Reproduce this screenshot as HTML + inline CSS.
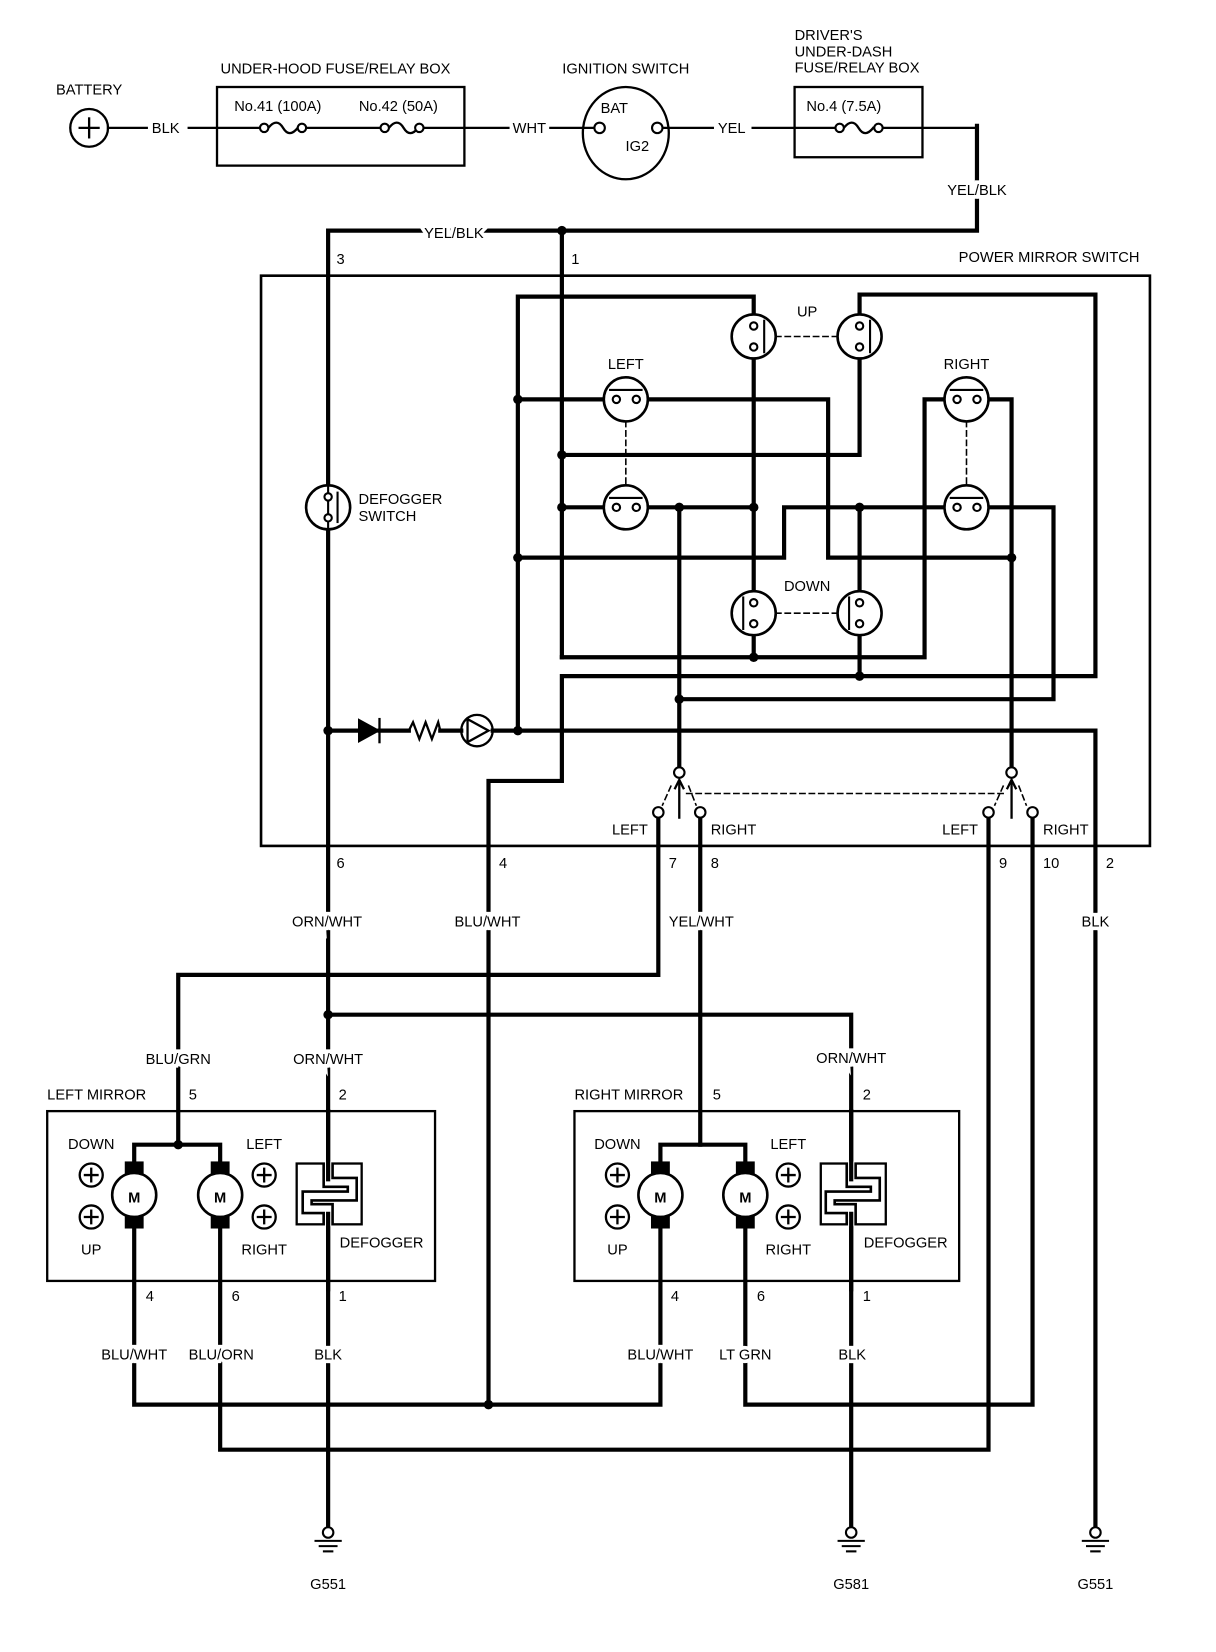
<!DOCTYPE html>
<html><head><meta charset="utf-8"><style>
html,body{margin:0;padding:0;background:#fff;}
svg{display:block;}
text{font-family:"Liberation Sans",Arial,sans-serif;font-size:14px;fill:#000;}
.l{stroke:#fff;stroke-width:7px;paint-order:stroke;}
</style></head><body>
<svg width="1216" height="1652" viewBox="0 0 1160 1576" xmlns="http://www.w3.org/2000/svg">
<g fill="none" stroke="#000" stroke-linecap="square">
<g stroke-width="2.2">
<circle cx="85" cy="122" r="18"/>
<line x1="76" y1="122" x2="94" y2="122"/><line x1="85" y1="113" x2="85" y2="131"/>
<line x1="103" y1="122" x2="140" y2="122"/>
<line x1="180" y1="122" x2="248" y2="122"/>
<rect x="207" y="83" width="236" height="75"/>
<line x1="291" y1="122" x2="363" y2="122"/>
<line x1="402" y1="122" x2="485" y2="122"/>
<line x1="525" y1="122" x2="566" y2="122"/>
<ellipse cx="597" cy="127" rx="41" ry="44"/>
<line x1="634" y1="122" x2="680" y2="122"/>
<line x1="718" y1="122" x2="797" y2="122"/>
<rect x="758" y="83" width="122" height="67"/>
<line x1="838" y1="122" x2="932" y2="122"/>
<path d="M256 122 q8 -10 14 0 q6 10 14 0 M371 122 q8 -10 14 0 q6 10 14 0 M805 122 q8 -10 14 0 q6 10 14 0"/>
</g>
<g stroke-width="2" fill="#fff">
<circle cx="252" cy="122" r="4"/><circle cx="288" cy="122" r="4"/>
<circle cx="367" cy="122" r="4"/><circle cx="400" cy="122" r="4"/>
<circle cx="801" cy="122" r="4"/><circle cx="838" cy="122" r="4"/>
<circle cx="572" cy="122" r="5"/><circle cx="627" cy="122" r="5"/>
</g>
<rect x="249" y="263" width="848" height="544" stroke-width="2.5"/>
<g stroke-width="4">
<polyline points="932,120 932,220 313,220 313,1460"/>
<line x1="536" y1="220" x2="536" y2="627"/>
<polyline points="494,697 494,283 719,283 719,627"/>
<polyline points="820,300 820,281 1045,281 1045,645 536,645 536,745 466,745 466,1340"/>
<polyline points="820,340 820,434 536,434"/>
<polyline points="494,381 790,381 790,532 965,532"/>
<polyline points="494,532 748,532 748,484 1005,484 1005,667 648,667"/>
<line x1="536" y1="484" x2="719" y2="484"/>
<line x1="648" y1="484" x2="648" y2="733"/>
<polyline points="536,627 882,627 882,381 965,381 965,733"/>
<line x1="820" y1="484" x2="820" y2="645"/>
<line x1="313" y1="697" x2="340" y2="697"/>
<line x1="362" y1="697" x2="390" y2="697"/>
<line x1="420" y1="697" x2="440" y2="697"/>
<polyline points="470,697 1045,697 1045,1460"/>
<polyline points="628,780 628,930 170,930 170,1092"/>
<line x1="668" y1="780" x2="668" y2="1092"/>
<polyline points="943,780 943,1383 210,1383 210,1168"/>
<polyline points="985,780 985,1340 711,1340 711,1168"/>
<polyline points="128,1168 128,1340 630,1340 630,1168"/>
<polyline points="313,968 812,968 812,1460"/>
<polyline points="128,1112 128,1092 210,1092 210,1112"/>
<polyline points="630,1112 630,1092 711,1092 711,1112"/>
</g>
<g stroke-width="2.2">
<polyline points="390,697 394,689 400,705 406,689 412,705 418,689 420,697"/>
<line x1="362" y1="686" x2="362" y2="708"/>
<circle cx="455" cy="697" r="15"/>
<polygon points="446,686 446,708 466,697"/>
</g>
<polygon points="342,686 342,708 362,697" fill="#000"/>
<g stroke-width="2.5" fill="#fff">
<circle cx="313" cy="484" r="21"/>
<circle cx="719" cy="321" r="21"/><circle cx="820" cy="321" r="21"/>
<circle cx="597" cy="381" r="21"/><circle cx="597" cy="484" r="21"/>
<circle cx="922" cy="381" r="21"/><circle cx="922" cy="484" r="21"/>
<circle cx="719" cy="585" r="21"/><circle cx="820" cy="585" r="21"/>
</g>
<g stroke-width="2">
<line x1="313" y1="463" x2="313" y2="505"/>
<line x1="322" y1="470" x2="322" y2="498"/>
<line x1="729" y1="306" x2="729" y2="336"/><line x1="830" y1="306" x2="830" y2="336"/>
<line x1="709" y1="570" x2="709" y2="600"/><line x1="810" y1="570" x2="810" y2="600"/>
<line x1="582" y1="372" x2="612" y2="372"/><line x1="582" y1="475" x2="612" y2="475"/>
<line x1="907" y1="372" x2="937" y2="372"/><line x1="907" y1="475" x2="937" y2="475"/>
</g>
<g stroke-width="2" fill="#fff">
<circle cx="313" cy="474" r="3.5"/><circle cx="313" cy="494" r="3.5"/>
<circle cx="719" cy="311" r="3.5"/><circle cx="719" cy="331" r="3.5"/>
<circle cx="820" cy="311" r="3.5"/><circle cx="820" cy="331" r="3.5"/>
<circle cx="719" cy="575" r="3.5"/><circle cx="719" cy="595" r="3.5"/>
<circle cx="820" cy="575" r="3.5"/><circle cx="820" cy="595" r="3.5"/>
<circle cx="588" cy="381" r="3.5"/><circle cx="607" cy="381" r="3.5"/>
<circle cx="588" cy="484" r="3.5"/><circle cx="607" cy="484" r="3.5"/>
<circle cx="913" cy="381" r="3.5"/><circle cx="932" cy="381" r="3.5"/>
<circle cx="913" cy="484" r="3.5"/><circle cx="932" cy="484" r="3.5"/>
</g>
<g stroke-width="1.5" stroke-dasharray="5,4">
<line x1="740" y1="321" x2="799" y2="321"/>
<line x1="740" y1="585" x2="799" y2="585"/>
<line x1="597" y1="402" x2="597" y2="463"/>
<line x1="922" y1="402" x2="922" y2="463"/>
<line x1="655" y1="757" x2="958" y2="757"/>
<line x1="640" y1="750" x2="632" y2="768"/><line x1="657" y1="750" x2="664" y2="768"/>
<line x1="957" y1="750" x2="949" y2="768"/><line x1="972" y1="750" x2="979" y2="768"/>
</g>
<g stroke-width="2.2">
<line x1="648" y1="745" x2="648" y2="780"/><polyline points="644,752 648,744 652,752"/>
<line x1="965" y1="745" x2="965" y2="780"/><polyline points="961,752 965,744 969,752"/>
</g>
<g stroke-width="2" fill="#fff">
<circle cx="648" cy="737" r="5"/><circle cx="628" cy="775" r="5"/><circle cx="668" cy="775" r="5"/>
<circle cx="965" cy="737" r="5"/><circle cx="943" cy="775" r="5"/><circle cx="985" cy="775" r="5"/>
</g>
<rect x="45" y="1060" width="370" height="162" stroke-width="2.2"/>
<rect x="548" y="1060" width="367" height="162" stroke-width="2.2"/>
<g stroke-width="2.2">
<circle cx="87" cy="1121" r="11"/><circle cx="87" cy="1161" r="11"/>
<circle cx="252" cy="1121" r="11"/><circle cx="252" cy="1161" r="11"/>
<circle cx="589" cy="1121" r="11"/><circle cx="589" cy="1161" r="11"/>
<circle cx="752" cy="1121" r="11"/><circle cx="752" cy="1161" r="11"/>
<path d="M81 1121h12M87 1115v12M81 1161h12M87 1155v12M246 1121h12M252 1115v12M246 1161h12M252 1155v12M583 1121h12M589 1115v12M583 1161h12M589 1155v12M746 1121h12M752 1115v12M746 1161h12M752 1155v12"/>
<rect x="283" y="1110" width="62" height="58" fill="#fff"/>
<rect x="783" y="1110" width="62" height="58" fill="#fff"/>
</g>
<g stroke-linecap="butt" stroke-linejoin="miter">
<path d="M313 1110 V1128 H336 V1141 H293 V1153 H313 V1168" stroke-width="11"/>
<path d="M313 1108 V1128 H336 V1141 H293 V1153 H313 V1170" stroke-width="6" stroke="#fff"/>
<path d="M812 1110 V1128 H835 V1141 H792 V1153 H812 V1168" stroke-width="11"/>
<path d="M812 1108 V1128 H835 V1141 H792 V1153 H812 V1170" stroke-width="6" stroke="#fff"/>
</g>
<g stroke-width="4">
<line x1="313" y1="1060" x2="313" y2="1125"/><line x1="313" y1="1158" x2="313" y2="1230"/>
<line x1="812" y1="1060" x2="812" y2="1125"/><line x1="812" y1="1158" x2="812" y2="1230"/>
</g>
<g fill="#000" stroke="none">
<rect x="119" y="1108" width="18" height="64"/><rect x="201" y="1108" width="18" height="64"/>
<rect x="621" y="1108" width="18" height="64"/><rect x="702" y="1108" width="18" height="64"/>
</g>
<g stroke-width="2.5" fill="#fff">
<circle cx="128" cy="1140" r="21"/><circle cx="210" cy="1140" r="21"/>
<circle cx="630" cy="1140" r="21"/><circle cx="711" cy="1140" r="21"/>
</g>
<g stroke-width="2">
<circle cx="313" cy="1462" r="5" fill="#fff"/><line x1="301" y1="1470" x2="325" y2="1470"/><line x1="305" y1="1475" x2="321" y2="1475"/><line x1="309" y1="1480" x2="317" y2="1480"/>
<circle cx="812" cy="1462" r="5" fill="#fff"/><line x1="800" y1="1470" x2="824" y2="1470"/><line x1="804" y1="1475" x2="820" y2="1475"/><line x1="808" y1="1480" x2="816" y2="1480"/>
<circle cx="1045" cy="1462" r="5" fill="#fff"/><line x1="1033" y1="1470" x2="1057" y2="1470"/><line x1="1037" y1="1475" x2="1053" y2="1475"/><line x1="1041" y1="1480" x2="1049" y2="1480"/>
</g>
</g>
<g fill="#000">
<circle cx="536" cy="220" r="4.5"/><circle cx="494" cy="381" r="4.5"/><circle cx="494" cy="532" r="4.5"/><circle cx="494" cy="697" r="4.5"/>
<circle cx="536" cy="434" r="4.5"/><circle cx="536" cy="484" r="4.5"/><circle cx="648" cy="484" r="4.5"/><circle cx="719" cy="484" r="4.5"/>
<circle cx="820" cy="484" r="4.5"/><circle cx="965" cy="532" r="4.5"/><circle cx="719" cy="627" r="4.5"/><circle cx="820" cy="645" r="4.5"/>
<circle cx="648" cy="667" r="4.5"/><circle cx="313" cy="697" r="4.5"/><circle cx="313" cy="968" r="4.5"/><circle cx="466" cy="1340" r="4.5"/>
<circle cx="170" cy="1092" r="4.5"/>
</g>
<g>
<text x="85" y="90" text-anchor="middle">BATTERY</text>
<text x="158" y="127" text-anchor="middle">BLK</text>
<text x="320" y="70" text-anchor="middle">UNDER-HOOD FUSE/RELAY BOX</text>
<text x="265" y="106" text-anchor="middle" font-size="13">No.41 (100A)</text>
<text x="380" y="106" text-anchor="middle" font-size="13">No.42 (50A)</text>
<text x="505" y="127" text-anchor="middle">WHT</text>
<text x="597" y="70" text-anchor="middle">IGNITION SWITCH</text>
<text x="586" y="108" text-anchor="middle">BAT</text>
<text x="608" y="144" text-anchor="middle">IG2</text>
<text x="698" y="127" text-anchor="middle">YEL</text>
<text x="758" y="38">DRIVER'S</text>
<text x="758" y="54">UNDER-DASH</text>
<text x="758" y="69">FUSE/RELAY BOX</text>
<text x="805" y="106" text-anchor="middle" font-size="13">No.4 (7.5A)</text>
<text x="932" y="186" text-anchor="middle" class="l">YEL/BLK</text>
<text x="433" y="227" text-anchor="middle" class="l">YEL/BLK</text>
<text x="321" y="252">3</text><text x="545" y="252">1</text>
<text x="1087" y="250" text-anchor="end">POWER MIRROR SWITCH</text>
<text x="770" y="302" text-anchor="middle">UP</text>
<text x="597" y="352" text-anchor="middle">LEFT</text>
<text x="922" y="352" text-anchor="middle">RIGHT</text>
<text x="770" y="564" text-anchor="middle">DOWN</text>
<text x="342" y="481">DEFOGGER</text>
<text x="342" y="497">SWITCH</text>
<text x="618" y="796" text-anchor="end">LEFT</text><text x="678" y="796">RIGHT</text>
<text x="933" y="796" text-anchor="end">LEFT</text><text x="995" y="796">RIGHT</text>
<text x="321" y="828">6</text><text x="476" y="828">4</text><text x="638" y="828">7</text><text x="678" y="828">8</text>
<text x="953" y="828">9</text><text x="995" y="828">10</text><text x="1055" y="828">2</text>
<text x="312" y="884" text-anchor="middle" class="l">ORN/WHT</text>
<text x="465" y="884" text-anchor="middle" class="l">BLU/WHT</text>
<text x="669" y="884" text-anchor="middle" class="l">YEL/WHT</text>
<text x="1045" y="884" text-anchor="middle" class="l">BLK</text>
<text x="170" y="1015" text-anchor="middle" class="l">BLU/GRN</text>
<text x="313" y="1015" text-anchor="middle" class="l">ORN/WHT</text>
<text x="812" y="1014" text-anchor="middle" class="l">ORN/WHT</text>
<text x="45" y="1049">LEFT MIRROR</text><text x="180" y="1049">5</text><text x="323" y="1049">2</text>
<text x="548" y="1049">RIGHT MIRROR</text><text x="680" y="1049">5</text><text x="823" y="1049">2</text>
<text x="87" y="1096" text-anchor="middle">DOWN</text><text x="252" y="1096" text-anchor="middle">LEFT</text>
<text x="87" y="1197" text-anchor="middle">UP</text><text x="252" y="1197" text-anchor="middle">RIGHT</text>
<text x="324" y="1190">DEFOGGER</text>
<text x="589" y="1096" text-anchor="middle">DOWN</text><text x="752" y="1096" text-anchor="middle">LEFT</text>
<text x="589" y="1197" text-anchor="middle">UP</text><text x="752" y="1197" text-anchor="middle">RIGHT</text>
<text x="824" y="1190">DEFOGGER</text>
<g font-weight="bold"><text x="128" y="1147" text-anchor="middle" font-size="19">M</text><text x="210" y="1147" text-anchor="middle" font-size="19">M</text>
<text x="630" y="1147" text-anchor="middle" font-size="19">M</text><text x="711" y="1147" text-anchor="middle" font-size="19">M</text></g>
<text x="139" y="1241">4</text><text x="221" y="1241">6</text><text x="323" y="1241">1</text>
<text x="640" y="1241">4</text><text x="722" y="1241">6</text><text x="823" y="1241">1</text>
<text x="128" y="1297" text-anchor="middle" class="l">BLU/WHT</text>
<text x="211" y="1297" text-anchor="middle" class="l">BLU/ORN</text>
<text x="313" y="1297" text-anchor="middle" class="l">BLK</text>
<text x="630" y="1297" text-anchor="middle" class="l">BLU/WHT</text>
<text x="711" y="1297" text-anchor="middle" class="l">LT GRN</text>
<text x="813" y="1297" text-anchor="middle" class="l">BLK</text>
<text x="313" y="1516" text-anchor="middle">G551</text>
<text x="812" y="1516" text-anchor="middle">G581</text>
<text x="1045" y="1516" text-anchor="middle">G551</text>
</g>
</svg>
</body></html>
